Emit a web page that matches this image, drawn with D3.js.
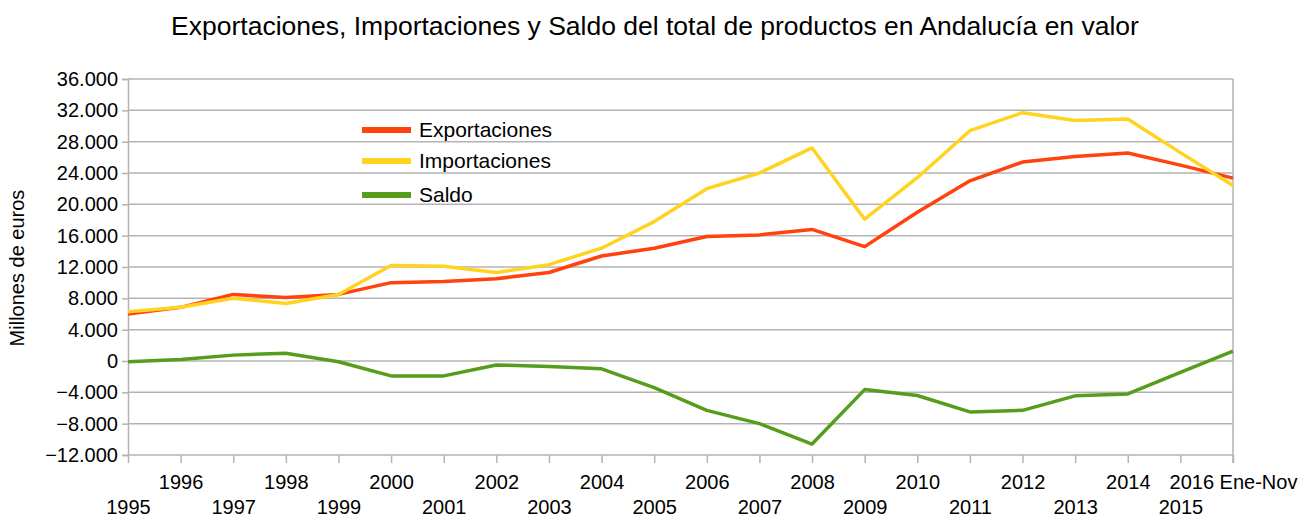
<!DOCTYPE html>
<html>
<head>
<meta charset="utf-8">
<script src="https://cdn.jsdelivr.net/npm/d3@7"></script>
<style>
	body { margin: 0; background: #fff; }
	text { font-family: "Liberation Sans", Arial, sans-serif; fill: #000; }
</style>
</head>
<body>
<div id="chart"></div>
<script>

var years = ["1995", "1996", "1997", "1998", "1999", "2000", "2001", "2002", "2003", "2004", "2005",
	"2006", "2007", "2008", "2009", "2010", "2011", "2012", "2013", "2014", "2015", "2016 Ene-Nov"];

var exportaciones = [6000, 6850, 8500, 8100, 8500, 10000, 10150, 10500, 11300, 13400, 14400,
	15900, 16100, 16800, 14600, 19000, 23000, 25400, 26100, 26550, 25000, 23350];

var importaciones = [6300, 6850, 8000, 7350, 8500, 12200, 12100, 11300, 12300, 14400, 17800,
	22000, 24000, 27200, 18100, 23400, 29400, 31700, 30700, 30900, 26600, 22400];

var saldo = [-100, 200, 750, 1000, -100, -1900, -1900, -500, -700, -1000, -3400,
	-6300, -8000, -10600, -3650, -4400, -6500, -6300, -4450, -4200, -1450, 1250];

var yTicks = [-12000, -8000, -4000, 0, 4000, 8000, 12000, 16000, 20000, 24000, 28000, 32000, 36000];

var series = [
	{name: "Exportaciones", values: exportaciones, color: "#ff420e"},
	{name: "Importaciones", values: importaciones, color: "#ffd320"},
	{name: "Saldo", values: saldo, color: "#579d1c"}
];

var width = 1316, height = 518;
var plotLeft = 128, plotRight = 1233, plotTop = 79, plotBottom = 455;

var svg = d3.select("#chart")
	.append("svg")
		.attr("width", width)
		.attr("height", height);

var x = d3.scalePoint()
	.domain(years)
	.range([plotLeft, plotRight]);

var y = d3.scaleLinear()
	.domain([-12000, 36000])
	.range([plotBottom, plotTop]);

// spanish number format: 36.000
var fmt = d3.formatLocale({decimal: ",", thousands: ".", grouping: [3], currency: ["", "€"]}).format(",");

// title
svg.append("text")
	.attr("x", 655)
	.attr("y", 35)
	.attr("text-anchor", "middle")
	.style("font-size", "26.5px")
	.text("Exportaciones, Importaciones y Saldo del total de productos en Andalucía en valor");

// horizontal grid
svg.append("g")
	.selectAll("line")
	.data(yTicks)
	.enter()
		.append("line")
		.attr("x1", plotLeft)
		.attr("x2", plotRight)
		.attr("y1", d => y(d))
		.attr("y2", d => y(d))
		.attr("stroke", "#b3b3b3")
		.attr("stroke-width", 1.5);

// y axis
var yAxis = svg.append("g")
	.attr("transform", "translate(" + plotLeft + ",0)")
	.call(d3.axisLeft(y).tickValues(yTicks).tickSize(6).tickPadding(4).tickFormat(d => fmt(d)));

// x axis, labels staggered on two rows
var xAxis = svg.append("g")
	.attr("transform", "translate(0," + plotBottom + ")")
	.call(d3.axisBottom(x).tickSize(8).tickPadding(0));

xAxis.selectAll("text")
	.attr("dy", 0)
	.attr("y", (d, i) => i % 2 == 1 ? 34 : 59);

[yAxis, xAxis].forEach(g => {
	g.selectAll("path, line").attr("stroke", "#b3b3b3").attr("stroke-width", 1.5);
	g.selectAll("text").style("font-size", "20px").attr("fill", "#000");
});

xAxis.select(".domain").remove();

// right border
svg.append("line")
	.attr("x1", plotRight)
	.attr("x2", plotRight)
	.attr("y1", plotTop)
	.attr("y2", plotBottom + 8)
	.attr("stroke", "#b3b3b3")
	.attr("stroke-width", 1.5);

svg.append("text")
	.attr("transform", "translate(24," + ((plotTop + plotBottom) / 2 + 1) + ") rotate(-90)")
	.attr("text-anchor", "middle")
	.style("font-size", "20px")
	.text("Millones de euros");

// lines
var line = d3.line()
	.x((d, i) => x(years[i]))
	.y(d => y(d));

svg.append("g")
	.selectAll("path")
	.data(series)
	.enter()
		.append("path")
		.attr("d", d => line(d.values))
		.attr("fill", "none")
		.attr("stroke", d => d.color)
		.attr("stroke-width", 3.5)
		.attr("stroke-linejoin", "round");

// legend
var legend = svg.append("g")
	.selectAll("g")
	.data(series)
	.enter()
		.append("g")
		.attr("transform", (d, i) => "translate(362," + [130, 161, 195][i] + ")");

legend.append("line")
	.attr("x1", 0)
	.attr("x2", 49)
	.attr("stroke", d => d.color)
	.attr("stroke-width", 6);

legend.append("text")
	.attr("x", 57)
	.attr("y", 7)
	.style("font-size", "21px")
	.text(d => d.name);

</script>
</body>
</html>
